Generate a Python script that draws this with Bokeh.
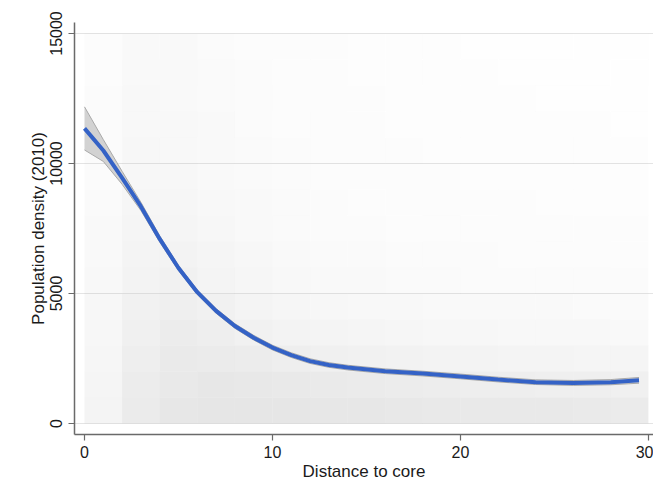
from bokeh.plotting import figure
from bokeh.models import FixedTicker, ColumnDataSource
from bokeh.embed import file_html
from bokeh.resources import INLINE

# ---- data ----
# scatter cloud summarised as a relative point-density grid
grid_x_centers = [1, 3, 5, 7, 9, 11, 13, 15, 17, 19, 21, 23, 25, 27, 29]      # distance bins (width 2)
grid_y_centers = [500, 1500, 2500, 3500, 4500, 5500, 6500, 7500, 8500, 9500,
                  10500, 11500, 12500, 13500, 14500]                          # density bins (height 1000)
density_rows = [
    [0.45, 0.80, 0.95, 1.00, 1.00, 1.00, 0.98, 0.95, 0.92, 0.90, 0.90, 0.88, 0.88, 0.85, 0.80],
    [0.42, 0.75, 0.90, 0.95, 0.92, 0.88, 0.85, 0.80, 0.76, 0.72, 0.70, 0.68, 0.66, 0.64, 0.60],
    [0.38, 0.68, 0.85, 0.82, 0.75, 0.68, 0.62, 0.58, 0.54, 0.50, 0.48, 0.46, 0.44, 0.42, 0.40],
    [0.34, 0.62, 0.76, 0.68, 0.58, 0.50, 0.44, 0.40, 0.36, 0.34, 0.32, 0.30, 0.28, 0.28, 0.26],
    [0.31, 0.56, 0.66, 0.56, 0.46, 0.38, 0.33, 0.30, 0.27, 0.25, 0.24, 0.23, 0.22, 0.21, 0.20],
    [0.28, 0.50, 0.56, 0.46, 0.37, 0.30, 0.26, 0.23, 0.21, 0.19, 0.18, 0.17, 0.16, 0.16, 0.15],
    [0.25, 0.45, 0.48, 0.39, 0.31, 0.25, 0.21, 0.19, 0.17, 0.16, 0.15, 0.14, 0.13, 0.13, 0.12],
    [0.22, 0.40, 0.42, 0.33, 0.26, 0.21, 0.18, 0.16, 0.14, 0.13, 0.12, 0.11, 0.11, 0.10, 0.10],
    [0.20, 0.37, 0.37, 0.29, 0.23, 0.19, 0.16, 0.14, 0.12, 0.11, 0.10, 0.10, 0.09, 0.09, 0.09],
    [0.18, 0.34, 0.33, 0.26, 0.21, 0.17, 0.14, 0.12, 0.11, 0.10, 0.09, 0.09, 0.08, 0.08, 0.08],
    [0.17, 0.32, 0.30, 0.24, 0.19, 0.15, 0.13, 0.11, 0.10, 0.09, 0.08, 0.08, 0.08, 0.07, 0.07],
    [0.16, 0.30, 0.28, 0.22, 0.17, 0.14, 0.12, 0.10, 0.09, 0.08, 0.08, 0.07, 0.07, 0.07, 0.06],
    [0.15, 0.28, 0.26, 0.20, 0.16, 0.13, 0.11, 0.10, 0.09, 0.08, 0.07, 0.07, 0.06, 0.06, 0.06],
    [0.14, 0.26, 0.24, 0.19, 0.15, 0.12, 0.10, 0.09, 0.08, 0.07, 0.07, 0.06, 0.06, 0.06, 0.05],
    [0.13, 0.25, 0.23, 0.18, 0.14, 0.12, 0.10, 0.09, 0.08, 0.07, 0.06, 0.06, 0.06, 0.05, 0.05],
]

# local polynomial fit and its confidence half-width
fit_x = [0, 1, 2, 3, 4, 5, 6, 7, 8, 9, 10, 11, 12, 13, 14, 16, 18, 20, 22, 24, 26, 28, 29.5]
fit_y = [11350, 10500, 9450, 8350, 7100, 5980, 5050, 4330, 3750, 3300, 2920, 2630,
         2400, 2250, 2150, 2010, 1920, 1810, 1690, 1590, 1560, 1590, 1660]
ci_half = [830, 420, 250, 160, 120, 100, 90, 90, 90, 90, 90, 90,
           90, 90, 90, 90, 90, 90, 90, 90, 95, 100, 110]

x_ticks = [0, 10, 20, 30]
y_ticks = [0, 5000, 10000, 15000]

FONT = "Liberation Sans"

p = figure(width=653, height=484, output_backend="svg", toolbar_location=None,
           x_range=(-0.532, 30.27), y_range=(-423, 15423),
           min_border_left=74, min_border_right=0, min_border_top=22, min_border_bottom=50)
p.background_fill_color = "white"
p.border_fill_color = "white"
p.outline_line_color = None

# scatter cloud (density grid)
gx, gy, ga = [], [], []
for j, yc in enumerate(grid_y_centers):
    for i, xc in enumerate(grid_x_centers):
        gx.append(xc)
        gy.append(yc)
        ga.append(density_rows[j][i] * 0.42)
src = ColumnDataSource(dict(x=gx, y=gy, a=ga))
p.rect(x="x", y="y", width=2, height=1000, source=src, fill_color="#c4c4c4",
       fill_alpha="a", line_color=None)

# confidence band
upper = [f + c for f, c in zip(fit_y, ci_half)]
lower = [f - c for f, c in zip(fit_y, ci_half)]
p.varea(x=fit_x, y1=lower, y2=upper, fill_color="#d2d2d2", fill_alpha=1.0)
p.line(fit_x, upper, line_color="#a9a9a9", line_width=1)
p.line(fit_x, lower, line_color="#a9a9a9", line_width=1)

# fitted line
p.line(fit_x, fit_y, line_color="#3462c6", line_width=4)

# axes
p.xaxis.ticker = FixedTicker(ticks=x_ticks)
p.yaxis.ticker = FixedTicker(ticks=y_ticks)
p.xaxis.axis_label = "Distance to core"
p.yaxis.axis_label = "Population density (2010)"
for ax in (p.xaxis, p.yaxis):
    ax.axis_line_color = "#6a6a6a"
    ax.axis_line_width = 1.5
    ax.major_tick_line_color = "#6a6a6a"
    ax.major_tick_line_width = 1.2
    ax.major_tick_out = 6
    ax.major_tick_in = 0
    ax.minor_tick_line_color = None
    ax.major_label_text_font = FONT
    ax.major_label_text_font_size = "16px"
    ax.major_label_text_color = "#1a1a1a"
    ax.axis_label_text_font = FONT
    ax.axis_label_text_font_size = "17px"
    ax.axis_label_text_font_style = "normal"
    ax.axis_label_text_color = "#1a1a1a"
p.yaxis.major_label_orientation = "vertical"
p.xaxis.major_label_standoff = 5
p.yaxis.major_label_standoff = 6
p.xaxis.axis_label_standoff = 1
p.yaxis.axis_label_standoff = 0

p.xgrid.grid_line_color = None
p.ygrid.grid_line_color = "#e4e4e4"
p.ygrid.grid_line_width = 1

open("out.html", "w").write(file_html(p, INLINE))
